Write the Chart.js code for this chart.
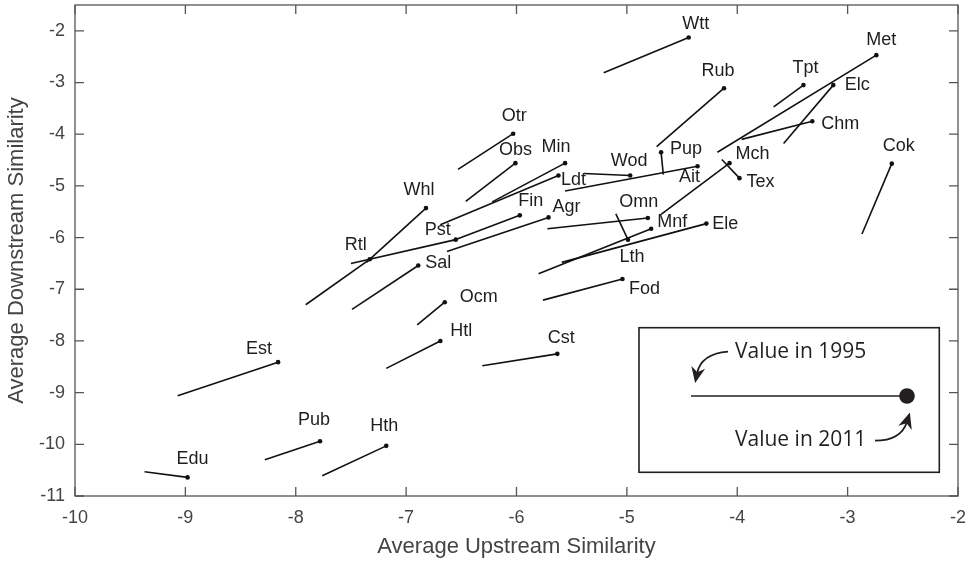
<!DOCTYPE html>
<html lang="en">
<head>
<meta charset="UTF-8">
<title>Upstream vs downstream similarity, 1995 to 2011</title>
<style>
  html, body { margin: 0; padding: 0; background: #fff; }
  #wrap { width: 969px; height: 562px; }
</style>
</head>
<body>
<div id="wrap"><canvas id="chart" width="969" height="562"></canvas></div>
<script src="https://cdn.jsdelivr.net/npm/chart.js"></script>
<script>
// sector codes, value in 1995 (line start) and value in 2011 (dot)
const sectors  = ['Edu','Pub','Hth','Est','Htl','Ocm','Cst','Sal','Rtl','Whl','Pst','Fin','Agr','Otr','Obs','Min','Ldt','Wod','Pup','Ait','Omn','Mnf','Lth','Ele','Fod','Mch','Tex','Rub','Tpt','Met','Elc','Chm','Cok','Wtt'];
const up1995   = [-9.37,-8.28,-7.76,-9.07,-7.18,-6.90,-6.31,-7.49,-7.91,-7.36,-7.50,-6.58,-6.63,-6.53,-6.46,-6.22,-6.69,-5.39,-4.67,-5.56,-5.72,-5.80,-5.10,-5.59,-5.76,-4.69,-4.14,-4.73,-3.67,-4.18,-3.58,-3.96,-2.87,-5.21];
const down1995 = [-10.53,-10.30,-10.61,-9.06,-8.53,-7.69,-8.48,-7.39,-7.30,-6.48,-6.50,-6.06,-6.27,-4.68,-5.30,-5.31,-5.75,-4.76,-4.78,-5.10,-5.83,-6.70,-5.54,-6.48,-7.21,-5.55,-4.49,-4.24,-3.47,-4.35,-4.18,-4.10,-5.93,-2.81];
const up2011   = [-8.98,-7.78,-7.18,-8.16,-6.69,-6.65,-5.63,-6.89,-7.33,-6.82,-6.55,-5.97,-5.71,-6.03,-6.01,-5.56,-5.62,-4.97,-4.69,-4.36,-4.81,-4.78,-4.99,-4.28,-5.04,-4.07,-3.98,-4.12,-3.40,-2.74,-3.13,-3.32,-2.60,-4.44];
const down2011 = [-10.64,-9.94,-10.03,-8.41,-8.00,-7.25,-8.25,-6.54,-6.42,-5.43,-6.04,-5.57,-5.61,-3.99,-4.56,-4.56,-4.80,-4.80,-4.35,-4.62,-5.62,-5.83,-6.04,-5.73,-6.80,-4.56,-4.85,-3.11,-3.05,-2.47,-3.05,-3.75,-4.57,-2.13];

const xTicks = [-10, -9, -8, -7, -6, -5, -4, -3, -2];
const yTicks = [-11, -10, -9, -8, -7, -6, -5, -4, -3, -2];

// where each code sits relative to its 2011 dot (pixels)
const labelOffset = {
  Edu: [5, -18], Pub: [-6, -21], Hth: [-2, -20], Est: [-19, -13], Htl: [21, -10],
  Ocm: [34, -5], Cst: [4, -16], Sal: [20, -2], Rtl: [-14, -14], Whl: [-7, -18],
  Pst: [-18, -10], Fin: [11, -14], Agr: [18, -10], Otr: [1, -18], Obs: [0, -13],
  Min: [-9, -16], Ldt: [15, 4], Wod: [-1, -15], Pup: [25, -3], Ait: [-8, 11],
  Omn: [-9, -16], Mnf: [21, -7], Lth: [4, 17], Ele: [19, 0], Fod: [22, 10],
  Mch: [23, -9], Tex: [21, 4], Rub: [-6, -17], Tpt: [2, -17], Met: [5, -15],
  Elc: [24, 0], Chm: [28, 3], Cok: [7, -18], Wtt: [7, -14]
};

const FONT = '"Liberation Sans", Arial, Helvetica, sans-serif';
const AXIS_COLOR = '#555';
const TEXT_COLOR = '#444';

const datasets = sectors.map((s, i) => ({
  label: s,
  data: [{ x: up1995[i], y: down1995[i] }, { x: up2011[i], y: down2011[i] }],
  showLine: true,
  borderColor: '#111',
  borderWidth: 1.6,
  pointRadius: [0, 2.3],
  pointBackgroundColor: '#111',
  pointBorderWidth: 0
}));

// box around the plot with MATLAB style inward ticks
const frame = {
  id: 'frame',
  afterDraw(chart) {
    const { ctx, chartArea: a, scales: { x, y } } = chart;
    const tl = 9;
    ctx.save();
    ctx.strokeStyle = AXIS_COLOR;
    ctx.lineWidth = 1.3;
    ctx.strokeRect(a.left, a.top, a.right - a.left, a.bottom - a.top);
    ctx.beginPath();
    x.ticks.forEach(t => {
      const px = x.getPixelForValue(t.value);
      ctx.moveTo(px, a.bottom); ctx.lineTo(px, a.bottom - tl);
      ctx.moveTo(px, a.top); ctx.lineTo(px, a.top + tl);
    });
    y.ticks.forEach(t => {
      const py = y.getPixelForValue(t.value);
      ctx.moveTo(a.left, py); ctx.lineTo(a.left + tl, py);
      ctx.moveTo(a.right, py); ctx.lineTo(a.right - tl, py);
    });
    ctx.stroke();
    ctx.restore();
  }
};

const codes = {
  id: 'codes',
  afterDatasetsDraw(chart) {
    const { ctx, scales: { x, y } } = chart;
    ctx.save();
    ctx.font = '18px ' + FONT;
    ctx.fillStyle = '#1e1e1e';
    ctx.textAlign = 'center';
    ctx.textBaseline = 'middle';
    sectors.forEach((s, i) => {
      const off = labelOffset[s] || [0, -15];
      ctx.fillText(s, x.getPixelForValue(up2011[i]) + off[0], y.getPixelForValue(down2011[i]) + off[1]);
    });
    ctx.restore();
  }
};

function arrow(ctx, x0, y0, cx, cy, x1, y1) {
  ctx.beginPath();
  ctx.moveTo(x0, y0);
  ctx.quadraticCurveTo(cx, cy, x1, y1);
  ctx.stroke();
  let dx = x1 - cx, dy = y1 - cy;
  const len = Math.hypot(dx, dy);
  dx /= len; dy /= len;
  const h = 16, w = 7;
  const tx = x1 + dx * h * 0.6, ty = y1 + dy * h * 0.6;
  const bx = tx - dx * h, by = ty - dy * h;
  ctx.beginPath();
  ctx.moveTo(tx, ty);
  ctx.lineTo(bx - dy * w, by + dx * w);
  ctx.lineTo(tx - dx * h * 0.7, ty - dy * h * 0.7);
  ctx.lineTo(bx + dy * w, by - dx * w);
  ctx.closePath();
  ctx.fill();
}

// explanation box in the lower right corner
const keyBox = {
  id: 'keyBox',
  afterDraw(chart) {
    const { ctx, chartArea: a } = chart;
    const L = a.right - 319, R = a.right - 18.7, T = a.bottom - 168.3, B = a.bottom - 23.7;
    const ly = T + 68.3;
    ctx.save();
    ctx.fillStyle = '#fff';
    ctx.fillRect(L, T, R - L, B - T);
    ctx.strokeStyle = '#231f20';
    ctx.fillStyle = '#231f20';
    ctx.lineWidth = 1.6;
    ctx.strokeRect(L, T, R - L, B - T);
    ctx.beginPath();
    ctx.moveTo(L + 52, ly); ctx.lineTo(L + 268, ly);
    ctx.stroke();
    ctx.beginPath();
    ctx.arc(L + 268, ly, 7.8, 0, Math.PI * 2);
    ctx.fill();
    ctx.font = '21px "Open Sans", "Noto Sans", sans-serif';
    ctx.textAlign = 'left';
    ctx.textBaseline = 'middle';
    ctx.fillText('Value in 1995', L + 96, T + 24);
    ctx.fillText('Value in 2011', L + 96, T + 112.3);
    ctx.lineWidth = 1.8;
    arrow(ctx, L + 89, T + 24, L + 62, T + 26, L + 58, T + 46);
    arrow(ctx, L + 236, T + 113, L + 262, T + 113, L + 268, T + 94);
    ctx.restore();
  }
};

new Chart(document.getElementById('chart'), {
  type: 'scatter',
  data: { datasets },
  options: {
    responsive: false,
    animation: false,
    devicePixelRatio: 1,
    layout: { padding: { top: 5, right: 11, left: 0, bottom: 0 } },
    plugins: { legend: { display: false }, tooltip: { enabled: false } },
    scales: {
      x: {
        type: 'linear', min: -10, max: -2,
        grid: { display: false, drawTicks: false }, border: { display: false },
        afterBuildTicks: s => { s.ticks = xTicks.map(v => ({ value: v })); },
        afterFit: s => { s.height = 66; s.paddingLeft = 0; s.paddingRight = 0; },
        ticks: { color: TEXT_COLOR, padding: 11, font: { family: FONT, size: 18 } },
        title: { display: true, text: 'Average Upstream Similarity', color: TEXT_COLOR,
                 font: { family: FONT, size: 22 }, padding: { top: 0, bottom: 2 } }
      },
      y: {
        type: 'linear', min: -11, max: -1.5,
        grid: { display: false, drawTicks: false }, border: { display: false },
        afterBuildTicks: s => { s.ticks = yTicks.map(v => ({ value: v })); },
        afterFit: s => { s.width = 75; s.paddingTop = 0; s.paddingBottom = 0; },
        ticks: { color: TEXT_COLOR, padding: 10, font: { family: FONT, size: 18 } },
        title: { display: true, text: 'Average Downstream Similarity', color: TEXT_COLOR,
                 font: { family: FONT, size: 22 }, padding: { top: 4, bottom: 0 } }
      }
    }
  },
  plugins: [frame, codes, keyBox]
});
</script>
</body>
</html>
